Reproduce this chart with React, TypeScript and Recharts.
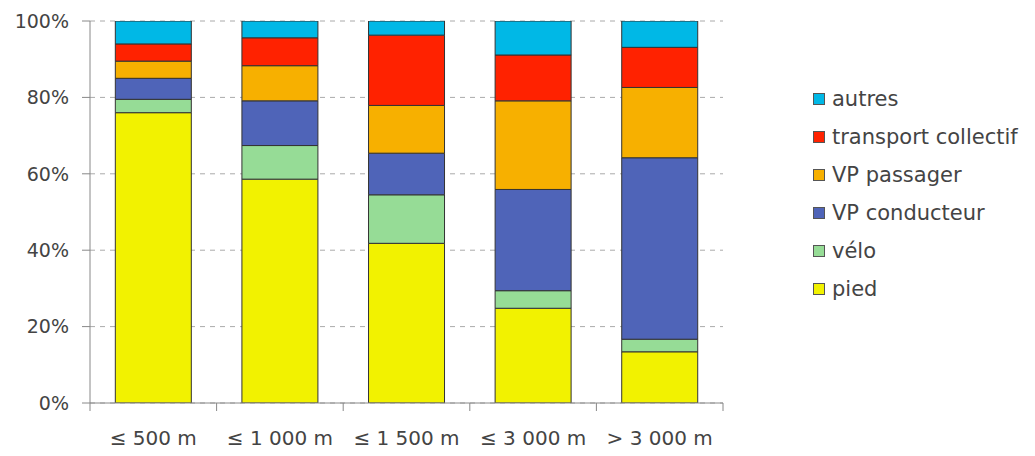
import React from "react";
import { BarChart, Bar, XAxis, YAxis, CartesianGrid } from "recharts";

const categories = ["≤ 500 m", "≤ 1 000 m", "≤ 1 500 m", "≤ 3 000 m", "> 3 000 m"];
const pied = [76, 58.6, 41.8, 24.8, 13.4];
const velo = [3.5, 8.8, 12.7, 4.6, 3.3];
const vpConducteur = [5.5, 11.7, 10.9, 26.5, 47.5];
const vpPassager = [4.5, 9.2, 12.5, 23.2, 18.4];
const transportCollectif = [4.5, 7.3, 18.4, 12.0, 10.5];
const autres = [6, 4.4, 3.7, 8.9, 6.9];
const yTicks = [0, 20, 40, 60, 80, 100];

const series = [
  { key: "pied", name: "pied", values: pied, color: "#F2F200" },
  { key: "velo", name: "vélo", values: velo, color: "#96DC96" },
  { key: "vpc", name: "VP conducteur", values: vpConducteur, color: "#4F64B8" },
  { key: "vpp", name: "VP passager", values: vpPassager, color: "#F7B000" },
  { key: "tc", name: "transport collectif", values: transportCollectif, color: "#FF2200" },
  { key: "autres", name: "autres", values: autres, color: "#00B8E6" },
];

const data = categories.map((c, i) => {
  const row: any = { cat: c };
  series.forEach((s) => (row[s.key] = s.values[i]));
  return row;
});

const FONT = "'DejaVu Sans', sans-serif";
const TEXT = "#444";

const XTick = (props: any) => {
  const { x, y, payload, index } = props;
  const off = payload?.offset ?? 63;
  return (
    <g>
      {index === 0 && <line x1={x - off} x2={x - off} y1={y} y2={y + 8} stroke="#888" />}
      <line x1={x + off} x2={x + off} y1={y} y2={y + 8} stroke="#888" />
      <text x={x} y={y + 42} textAnchor="middle" fontFamily={FONT} fontSize={20} fill={TEXT}>
        {payload.value}
      </text>
    </g>
  );
};

const LegendBox = () => (
  <div
    style={{
      position: "absolute",
      left: 813,
      top: 80,
      fontFamily: FONT,
      fontSize: 21,
      color: TEXT,
      whiteSpace: "nowrap",
    }}
  >
    {[...series].reverse().map((s) => (
      <div key={s.key} style={{ display: "flex", alignItems: "center", height: 38 }}>
        <span
          style={{
            display: "inline-block",
            width: 10,
            height: 10,
            background: s.color,
            border: "1px solid #555",
            marginRight: 7,
          }}
        />
        <span>{s.name}</span>
      </div>
    ))}
  </div>
);

export default function App() {
  return (
    <div style={{ position: "absolute", left: 0, top: 0, width: 1035, height: 456, background: "#fff" }}>
      <BarChart
        width={1035}
        height={456}
        data={data}
        margin={{ top: 21, right: 312, left: 0, bottom: 0 }}
        barCategoryGap="20%"
      >
        <CartesianGrid vertical={false} strokeDasharray="5 5" stroke="#aaa" />
        <XAxis
          dataKey="cat"
          height={53}
          tick={<XTick />}
          tickLine={false}
          tickSize={0}
          tickMargin={0}
          axisLine={{ stroke: "#888" }}
          interval={0}
        />
        <YAxis
          width={90}
          domain={[0, 100]}
          ticks={yTicks}
          tickFormatter={(v: number) => `${v}%`}
          tickSize={8}
          tickMargin={13}
          tickLine={{ stroke: "#888" }}
          axisLine={{ stroke: "#888" }}
          tick={{ fontFamily: FONT, fontSize: 19, fill: TEXT }}
          allowDataOverflow
        />
        {series.map((s) => (
          <Bar
            key={s.key}
            dataKey={s.key}
            name={s.name}
            stackId="a"
            fill={s.color}
            stroke="#333"
            strokeWidth={1}
            isAnimationActive={false}
          />
        ))}
      </BarChart>
      <LegendBox />
    </div>
  );
}
